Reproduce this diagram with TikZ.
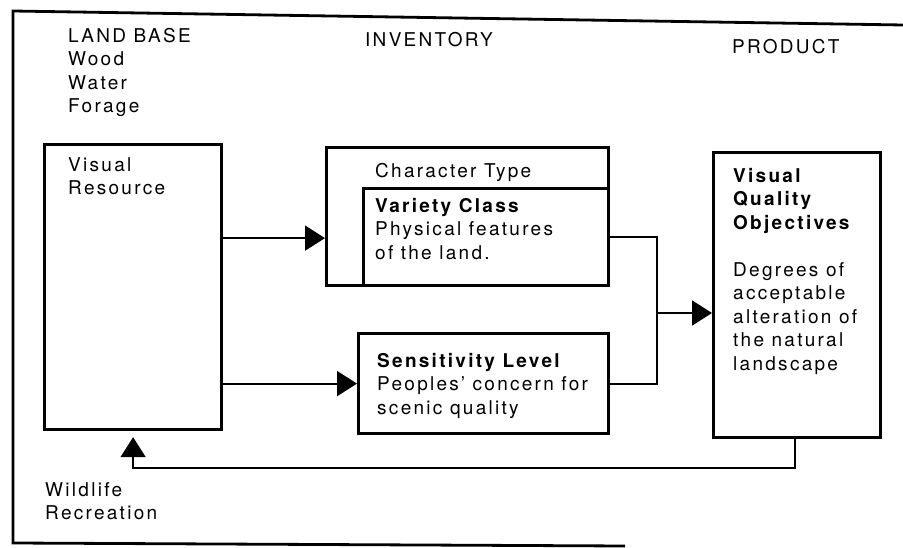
\documentclass[tikz,border=0pt]{standalone}
\usepackage{fontspec}
\setmainfont{TeX Gyre Heros}[LetterSpace=12]
\usepackage{tikz}
\usetikzlibrary{arrows.meta, calc, positioning}

\tikzset{
    box/.style={draw, line width=3.2pt, anchor=north west, inner sep=0pt},
    txt/.style={anchor=north west, inner sep=0pt, align=left,
        font=\fontsize{19}{23.5}\selectfont},
    link/.style={line width=1.8pt},
    arr/.style={line width=1.8pt, -{Triangle[length=20pt,width=25pt]}}
}

\begin{document}
\begin{tikzpicture}[x=1pt, y=-1pt]
    \useasboundingbox (0,0) rectangle (903,548);

    % Frame
    \draw[line width=2.8pt] (903,25) -- (13,11) -- (13,543) -- (625,546);

    % Column heads
    \node[txt] (landbase) at (68,28) {LAND BASE\\Wood\\Water\\Forage};
    \node[txt] (inventory) at (365,32) {INVENTORY};
    \node[txt] (product) at (732,39) {PRODUCT};

    % Boxes
    \node[box, minimum width=177pt, minimum height=285pt] (vr) at (43,143) {};
    \node[box, minimum width=282pt, minimum height=138pt] (ct) at (325,146) {};
    \node[box, minimum width=245pt, minimum height=97pt] (vc) at (362,187) {};
    \node[box, minimum width=250pt, minimum height=100pt] (sl) at (357,332) {};
    \node[box, minimum width=167pt, minimum height=285pt] (vqo) at (712,151) {};

    % Box texts
    \node[txt] (vrtext) at (68,157) {Visual\\Resource};
    \node[txt] (cttext) at (375,163) {Character Type};
    \node[txt] (vctext) at (375,198) {\textbf{Variety Class}\\Physical features\\of the land.};
    \node[txt] (sltext) at (377,353) {\textbf{Sensitivity Level}\\Peoples' concern for\\scenic quality};
    \node[txt, font=\fontsize{19}{23.5}\selectfont\bfseries] (vqotitle) at (733,168) {Visual\\Quality\\Objectives};
    \node[txt] (vqotext) at (733,262) {Degrees of\\acceptable\\alteration of\\the natural\\landscape};
    \node[txt] (wildlife) at (45,482) {Wildlife\\Recreation};

    % Connectors
    \coordinate (a) at ($(vr.north east)!0.33!(vr.south east)$);
    \draw[arr] (a) -- (ct.west |- a);
    \draw[arr] (vr.east |- sl.west) -- (sl.west);
    \coordinate (j) at (657,313);
    \draw[link] (vc.east) -| (j) |- (sl.east);
    \draw[arr] (j) -- (j -| vqo.west);
    \coordinate (fb) at (795,468);
    \draw[arr, shorten >=6pt] (vqo.south -| fb) -- (fb) -| (vr.south);
\end{tikzpicture}
\end{document}
